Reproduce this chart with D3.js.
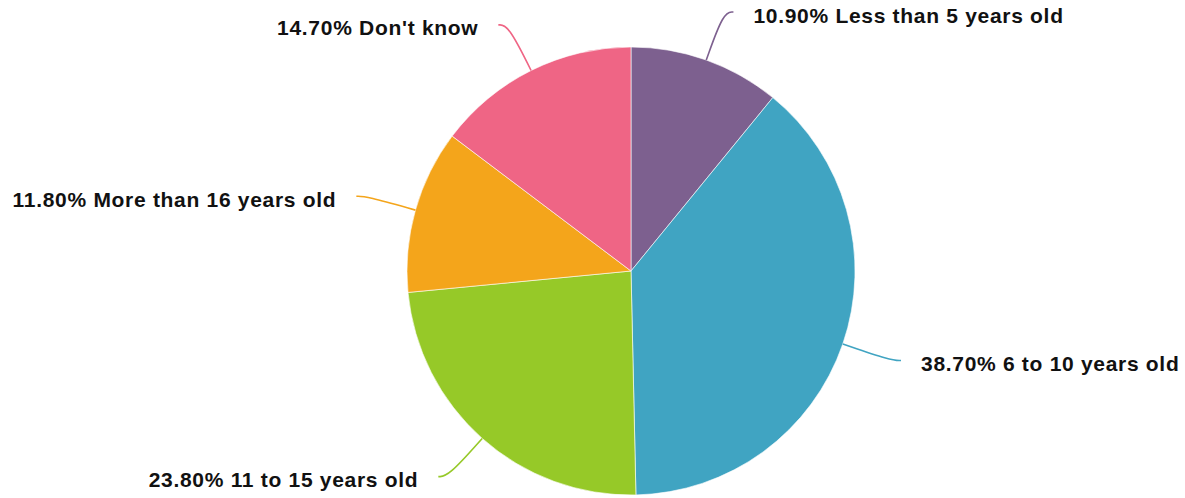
<!DOCTYPE html>
<html><head><meta charset="utf-8">
<script src="https://cdn.jsdelivr.net/npm/d3@7"></script>
<style>body{margin:0;background:#fff}svg{display:block}</style>
</head><body>
<script>
const categories = ["Less than 5 years old","6 to 10 years old","11 to 15 years old","More than 16 years old","Don't know"];
const values = [10.9, 38.7, 23.8, 11.8, 14.7];
const colors = ["#7d608f","#40a4c2","#96c928","#f4a51b","#ef6585"];

const W = 1185, H = 498, cx = 631, cy = 271, R = 224;
const svg = d3.select("body").append("svg").attr("width", W).attr("height", H);
const g = svg.append("g").attr("transform", `translate(${cx},${cy})`);

const data = categories.map((c, i) => ({label: c, value: values[i], color: colors[i]}));
const pie = d3.pie().value(d => d.value).sort(null);
const arcs = pie(data);
const arc = d3.arc().innerRadius(0).outerRadius(R);

g.selectAll("path.slice").data(arcs).join("path")
  .attr("class", "slice")
  .attr("d", arc)
  .attr("fill", d => d.data.color)
  .attr("stroke", "#fff").attr("stroke-width", 0.6);

const elbowR = R + 51, hLen = 10, gap = 20;
const line = d3.line().curve(d3.curveBasis);
arcs.forEach(a => {
  const m = (a.startAngle + a.endAngle) / 2;
  const s = Math.sin(m), c = -Math.cos(m);
  const right = s >= 0;
  const p0 = [R * s, R * c];
  const p1 = [elbowR * s, elbowR * c];
  const p2 = [p1[0] + (right ? hLen : -hLen), p1[1]];
  g.append("path").attr("d", line([p0, p1, p2]))
    .attr("fill", "none").attr("stroke", a.data.color).attr("stroke-width", 1.6);
  g.append("text")
    .attr("x", p2[0] + (right ? gap : -gap))
    .attr("y", p2[1] + 5)
    .attr("dominant-baseline", "middle")
    .attr("text-anchor", right ? "start" : "end")
    .attr("font-family", "'Liberation Sans', Arial, sans-serif")
    .attr("font-weight", "bold").attr("font-size", 21)
    .attr("letter-spacing", 0.7)
    .attr("fill", "#111")
    .text(d3.format(".2f")(a.data.value) + "% " + a.data.label);
});
</script>
</body></html>
